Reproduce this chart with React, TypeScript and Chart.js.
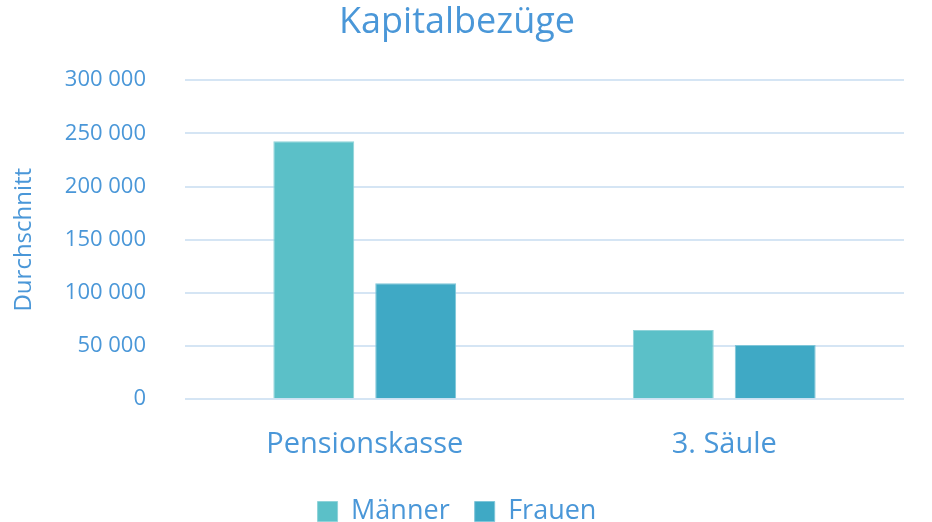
import React, { useEffect, useRef } from "react";
import { Chart, registerables } from "chart.js";

Chart.register(...registerables);

const categories = ["Pensionskasse", "3. Säule"];
const maenner = [242500, 65000];
const frauen = [109000, 51000];
const seriesNames = ["Männer", "Frauen"];
const titleText = "Kapitalbezüge";
const yTitle = "Durchschnitt";

const TEXT = "#4A97D8";
const FONT = "'Open Sans', 'Noto Sans', sans-serif";

const legendHeightPlugin = {
  id: "legendHeight",
  beforeLayout(chart: any) {
    const lg = chart.legend;
    if (lg && !lg._patched) {
      const f = lg.fit;
      lg.fit = function (this: any) {
        f.call(this);
        this.height = 49;
      };
      lg._patched = true;
    }
  },
};

export default function App() {
  const ref = useRef<HTMLCanvasElement | null>(null);
  useEffect(() => {
    document.body.style.margin = "0";
    const ctx = ref.current!;
    const chart = new Chart(ctx, {
      type: "bar",
      data: {
        labels: categories,
        datasets: [
          {
            label: seriesNames[0],
            data: maenner,
            backgroundColor: "#5BC0C8",
            borderColor: "#8FD3D9",
            borderWidth: 1,
            categoryPercentage: 0.567,
            barPercentage: 0.794,
          },
          {
            label: seriesNames[1],
            data: frauen,
            backgroundColor: "#3FA9C5",
            borderColor: "#7FC6D9",
            borderWidth: 1,
            categoryPercentage: 0.567,
            barPercentage: 0.794,
          },
        ],
      },
      plugins: [legendHeightPlugin],
      options: {
        animation: false,
        responsive: false,
        maintainAspectRatio: false,
        layout: { padding: { left: 10, right: 28, top: 0, bottom: 0 } },
        plugins: {
          title: {
            display: true,
            text: titleText,
            color: TEXT,
            font: { family: FONT, size: 36, weight: "normal" },
            padding: { top: 1, bottom: 36 },
          },
          legend: {
            position: "bottom",
            labels: {
              color: TEXT,
              font: { family: FONT, size: 27 },
              boxWidth: 20,
              boxHeight: 20,
              padding: 25,
            },
          },
          tooltip: { enabled: false },
        },
        scales: {
          x: {
            grid: { display: false, drawTicks: false },
            border: { display: false },
            afterFit: (scale: any) => {
              scale.height = scale.height - 17;
            },
            ticks: {
              color: TEXT,
              font: { family: FONT, size: 29 },
              padding: 28,
            },
          },
          y: {
            min: 0,
            max: 300000,
            border: { display: false },
            grid: { color: "#D5E5F4", lineWidth: 2, drawTicks: false },
            afterFit: (scale: any) => {
              scale.width = 175;
            },
            ticks: {
              stepSize: 50000,
              color: TEXT,
              font: { family: FONT, size: 22 },
              padding: 39,
              callback: (v: any) =>
                Number(v).toLocaleString("en-US").replace(/,/g, " "),
            },
            title: {
              display: true,
              text: yTitle,
              color: TEXT,
              font: { family: FONT, size: 24 },
              padding: { top: 0, bottom: 22 },
            },
          },
        },
      },
    });
    return () => chart.destroy();
  }, []);
  return (
    <div style={{ width: 932, height: 522 }}>
      <canvas ref={ref} width={932} height={522} />
    </div>
  );
}
